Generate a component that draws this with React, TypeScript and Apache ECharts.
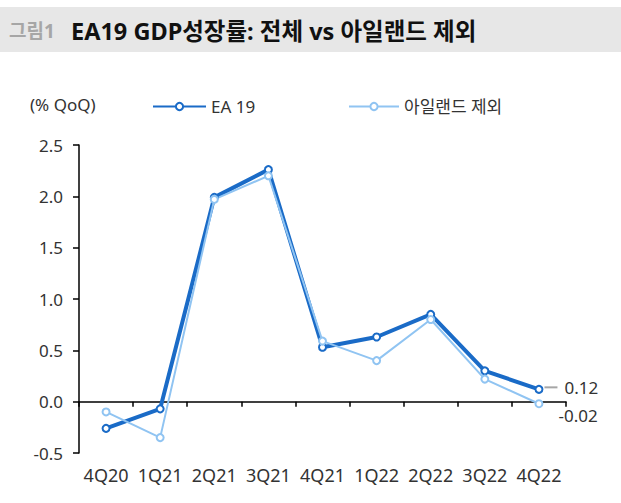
import React, { useEffect, useRef } from "react";
import * as echarts from "echarts";

const categories = ["4Q20", "1Q21", "2Q21", "3Q21", "4Q21", "1Q22", "2Q22", "3Q22", "4Q22"];
const ea19 = [-0.26, -0.07, 1.99, 2.26, 0.53, 0.63, 0.85, 0.3, 0.12];
const exIreland = [-0.1, -0.35, 1.97, 2.2, 0.59, 0.4, 0.8, 0.22, -0.02];
const seriesNames = ["EA 19", "아일랜드 제외"];
const yTicks = { min: -0.5, max: 2.5, interval: 0.5 };
const unitLabel = "(% QoQ)";
const figLabel = "그림1";
const titleText = "EA19 GDP성장률: 전체 vs 아일랜드 제외";

const FONT = "'Noto Sans', 'Noto Sans CJK KR', sans-serif";
const DARK = "#1a6bc7";
const LIGHT = "#90c4f2";

export default function App() {
  const ref = useRef<HTMLDivElement>(null);
  useEffect(() => {
    if (!ref.current) return;
    const chart = echarts.init(ref.current, undefined, { renderer: "svg" });
    const last = categories.length - 1;
    const eaData = ea19.map((v, i) =>
      i === last
        ? {
            value: v,
            label: {
              show: true,
              position: "right",
              distance: 1,
              offset: [0, -2],
              formatter: (p: any) => `{l|}{v|${Number(p.value).toFixed(2)}}`,
              rich: {
                l: { width: 13, height: 2, backgroundColor: "#a6a6a6" },
                v: { fontSize: 17, fontFamily: FONT, color: "#333", padding: [0, 0, 0, 7] },
              },
            },
          }
        : v
    );
    const exData = exIreland.map((v, i) =>
      i === last
        ? {
            value: v,
            label: {
              show: true,
              position: "right",
              distance: 1,
              offset: [14, 12],
              fontSize: 17,
              fontFamily: FONT,
              color: "#333",
              formatter: (p: any) => Number(p.value).toFixed(2),
            },
          }
        : v
    );
    chart.setOption({
      animation: false,
      backgroundColor: "#fff",
      graphic: [
        { type: "rect", shape: { x: 0, y: 7, width: 621, height: 45 }, style: { fill: "#e7e7e7" } },
        {
          type: "text",
          x: 9,
          y: 31,
          style: { text: figLabel, fontSize: 19, fontWeight: "bold", fontFamily: FONT, fill: "#a6a6a6", verticalAlign: "middle" },
        },
        {
          type: "text",
          x: 71,
          y: 31,
          style: { text: titleText, fontSize: 23.5, fontWeight: "bold", fontFamily: FONT, fill: "#111", verticalAlign: "middle" },
        },
        {
          type: "text",
          x: 30,
          y: 104,
          style: { text: unitLabel, fontSize: 17, fontFamily: FONT, fill: "#333", verticalAlign: "middle" },
        },
      ],
      legend: [
        {
          data: [seriesNames[0]],
          left: 147,
          top: 93,
          itemWidth: 53,
          itemHeight: 9,
          textStyle: { fontSize: 17, fontFamily: FONT, color: "#333" },
        },
        {
          data: [seriesNames[1]],
          left: 343,
          top: 93,
          itemWidth: 50,
          itemHeight: 9,
          textStyle: { fontSize: 17, fontFamily: FONT, color: "#333" },
        },
      ],
      grid: { left: 79, right: 55, top: 145, bottom: 50, containLabel: false },
      xAxis: [
        {
          type: "category",
          data: categories,
          position: "bottom",
          axisLine: { onZero: true, lineStyle: { color: "#000", width: 1.5 } },
          axisTick: { show: true, length: 5, lineStyle: { color: "#000", width: 1.5 } },
          axisLabel: { show: false },
          splitLine: { show: false },
        },
        {
          type: "category",
          data: categories,
          position: "bottom",
          axisLine: { show: false, onZero: false },
          axisTick: { show: false },
          axisLabel: {
            show: true,
            interval: 0,
            hideOverlap: false,
            margin: 13,
            fontSize: 18,
            fontFamily: FONT,
            color: "#333",
          },
          splitLine: { show: false },
        },
      ],
      yAxis: {
        type: "value",
        min: yTicks.min,
        max: yTicks.max,
        interval: yTicks.interval,
        axisLine: { show: true, lineStyle: { color: "#000", width: 1.5 } },
        axisTick: { show: true, length: 6, lineStyle: { color: "#000", width: 1.5 } },
        axisLabel: {
          margin: 16,
          fontSize: 17,
          fontFamily: FONT,
          color: "#333",
          formatter: (v: number) => v.toFixed(1),
        },
        splitLine: { show: false },
      },
      series: [
        {
          name: seriesNames[0],
          type: "line",
          xAxisIndex: 0,
          data: eaData,
          symbol: "circle",
          symbolSize: 7,
          lineStyle: { color: DARK, width: 4 },
          itemStyle: { color: "#fff", borderColor: DARK, borderWidth: 2 },
          emphasis: { disabled: true },
        },
        {
          name: seriesNames[1],
          type: "line",
          xAxisIndex: 0,
          data: exData,
          symbol: "circle",
          symbolSize: 7,
          lineStyle: { color: LIGHT, width: 2 },
          itemStyle: { color: "#fff", borderColor: LIGHT, borderWidth: 2 },
          emphasis: { disabled: true },
        },
      ],
    });
    return () => chart.dispose();
  }, []);
  return <div ref={ref} style={{ position: "fixed", left: 0, top: 0, width: 621, height: 503 }} />;
}
